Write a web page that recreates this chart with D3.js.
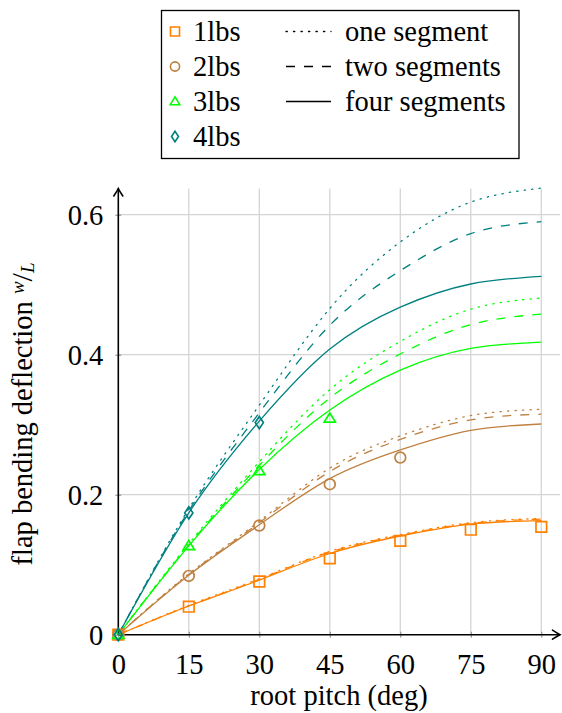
<!DOCTYPE html>
<html><head><meta charset="utf-8">
<script src="https://cdn.jsdelivr.net/npm/d3@7"></script>
<style>body{margin:0;background:#fff}svg{display:block}text{font-family:"Liberation Serif","Times New Roman",serif;fill:#000}</style>
</head><body>
<svg id="c" width="562" height="713"></svg>
<script>
// ---- data ----
const pitch = [0, 15, 30, 45, 60, 75, 90];
const xTicks = [0, 15, 30, 45, 60, 75, 90];
const yTicks = [0, 0.2, 0.4, 0.6];
const loads = ["1lbs", "2lbs", "3lbs", "4lbs"];
const loadColors = ["#ff8000", "#bf8040", "#00ff00", "#008080"];
const segmentNames = ["one segment", "two segments", "four segments"];

const one_1lbs  = [0, 0.042, 0.080, 0.119, 0.143, 0.160, 0.166];
const two_1lbs  = [0, 0.041, 0.079, 0.118, 0.142, 0.159, 0.165];
const four_1lbs = [0, 0.041, 0.078, 0.116, 0.141, 0.158, 0.163];

const one_2lbs  = [0, 0.087, 0.162, 0.238, 0.284, 0.313, 0.322];
const two_2lbs  = [0, 0.086, 0.160, 0.233, 0.279, 0.307, 0.315];
const four_2lbs = [0, 0.085, 0.157, 0.223, 0.264, 0.292, 0.301];

const one_3lbs  = [0, 0.130, 0.247, 0.350, 0.419, 0.465, 0.481];
const two_3lbs  = [0, 0.128, 0.242, 0.338, 0.401, 0.443, 0.458];
const four_3lbs = [0, 0.127, 0.236, 0.321, 0.378, 0.409, 0.418];

const one_4lbs  = [0, 0.180, 0.328, 0.466, 0.561, 0.618, 0.638];
const two_4lbs  = [0, 0.177, 0.317, 0.442, 0.520, 0.573, 0.590];
const four_4lbs = [0, 0.174, 0.305, 0.408, 0.468, 0.501, 0.512];

const exp_1lbs_x = [0, 15, 30, 45, 60, 75, 90];
const exp_1lbs_y = [0, 0.040, 0.076, 0.109, 0.134, 0.150, 0.154];
const exp_2lbs_x = [0, 15, 30, 45, 60];
const exp_2lbs_y = [0, 0.084, 0.156, 0.215, 0.253];
const exp_3lbs_x = [0, 15, 30, 45];
const exp_3lbs_y = [0, 0.127, 0.234, 0.309];
const exp_4lbs_x = [0, 15, 30];
const exp_4lbs_y = [0, 0.174, 0.303];

// ---- tables built from the arrays ----
const curveTable = [
  [one_1lbs, two_1lbs, four_1lbs],
  [one_2lbs, two_2lbs, four_2lbs],
  [one_3lbs, two_3lbs, four_3lbs],
  [one_4lbs, two_4lbs, four_4lbs]
];
const expTable = [
  [exp_1lbs_x, exp_1lbs_y],
  [exp_2lbs_x, exp_2lbs_y],
  [exp_3lbs_x, exp_3lbs_y],
  [exp_4lbs_x, exp_4lbs_y]
];

// ---- styles ----
const FS = 28.5;
const dashes = ["1.3,6.2", "9,9", null];
const lineW = 1.3;
const square = {draw(c, s){const h=s; c.moveTo(-h,-h); c.lineTo(h,-h); c.lineTo(h,h); c.lineTo(-h,h); c.closePath();}};
const circle = {draw(c, s){c.moveTo(s,0); c.arc(0,0,s,0,2*Math.PI);}};
const tri = {draw(c, s){c.moveTo(0,-s*1.05); c.lineTo(s*1.08,s*0.72); c.lineTo(-s*1.08,s*0.72); c.closePath();}};
const diamond = {draw(c, s){c.moveTo(0,-s*1.2); c.lineTo(s*0.8,0); c.lineTo(0,s*1.2); c.lineTo(-s*0.8,0); c.closePath();}};
const markerTypes = [square, circle, tri, diamond];
const markerSizes = [5.3, 5.4, 5.2, 5.1];

const svg = d3.select("#c");
const x = d3.scaleLinear().domain([0, 90]).range([118.3, 541.3]);
const y = d3.scaleLinear().domain([0, 0.6]).range([634.7, 214.7]);
const xEnd = 560, yTop = 188.5;

// grid
const grid = svg.append("g").attr("stroke", "#d4d4d4").attr("stroke-width", 1.3);
grid.selectAll("line.v").data(xTicks.filter(d => d > 0)).join("line")
  .attr("x1", d => x(d)).attr("x2", d => x(d)).attr("y1", y(0)).attr("y2", yTop);
grid.selectAll("line.h").data(yTicks.filter(d => d > 0)).join("line")
  .attr("x1", x(0)).attr("x2", xEnd).attr("y1", d => y(d)).attr("y2", d => y(d));

// axes (ticks + labels)
const ax = svg.append("g").attr("transform", `translate(0,${y(0)})`)
  .call(d3.axisBottom(x).tickValues(xTicks).tickFormat(d3.format("d")).tickSizeInner(3).tickSizeOuter(0));
ax.select(".domain").remove();
ax.selectAll(".tick line").attr("stroke", "#888").attr("y1", -3).attr("y2", 3);
ax.selectAll(".tick text").attr("y", 39).attr("dy", 0).attr("font-size", FS)
  .attr("font-family", "Liberation Serif").attr("fill", "#000");

const ay = svg.append("g").attr("transform", `translate(${x(0)},0)`)
  .call(d3.axisLeft(y).tickValues(yTicks).tickFormat(d => d === 0 ? "0" : d3.format(".1f")(d)).tickSizeInner(3).tickSizeOuter(0));
ay.select(".domain").remove();
ay.selectAll(".tick line").attr("stroke", "#888").attr("x1", -3).attr("x2", 3);
ay.selectAll(".tick text").attr("x", -15).attr("dy", "0.34em").attr("font-size", FS)
  .attr("font-family", "Liberation Serif").attr("fill", "#000");

// axis lines with arrows
const axisG = svg.append("g").attr("stroke", "#000").attr("stroke-width", 1.6).attr("fill", "none");
axisG.append("line").attr("x1", x(0)).attr("y1", y(0)).attr("x2", x(0)).attr("y2", yTop);
axisG.append("line").attr("x1", x(0)).attr("y1", y(0)).attr("x2", xEnd).attr("y2", y(0));
const arrow = "M-7.5,-4.5 Q-2.5,-1.2 0,0 Q-2.5,1.2 -7.5,4.5";
axisG.append("path").attr("d", arrow).attr("transform", `translate(${xEnd},${y(0)})`).attr("stroke-linecap","round");
axisG.append("path").attr("d", arrow).attr("transform", `translate(${x(0)},${yTop}) rotate(-90)`).attr("stroke-linecap","round");

// curves
const line = d3.line().x(d => x(d[0])).y(d => y(d[1])).curve(d3.curveNatural);
const curvesG = svg.append("g").attr("fill", "none");
curveTable.forEach((sets, i) => {
  sets.forEach((vals, j) => {
    curvesG.append("path")
      .datum(pitch.map((p, k) => [p, vals[k]]))
      .attr("d", line)
      .attr("stroke", loadColors[i])
      .attr("stroke-width", lineW)
      .attr("stroke-dasharray", dashes[j])
      .attr("stroke-linecap", j === 0 ? "round" : "butt");
  });
});

// markers
const markG = svg.append("g").attr("fill", "none").attr("stroke-width", 1.7);
expTable.forEach((e, i) => {
  const pts = e[0].map((px, k) => [px, e[1][k]]);
  markG.selectAll(null).data(pts).join("path")
    .attr("d", d3.symbol().type(markerTypes[i]).size(markerSizes[i]))
    .attr("transform", d => `translate(${x(d[0])},${y(d[1])})`)
    .attr("stroke", loadColors[i]);
});

// y label with nicefrac w/L
const yl = svg.append("text").attr("transform", "translate(32,414) rotate(-90)")
  .attr("text-anchor", "middle").attr("font-size", FS);
yl.append("tspan").text("flap bending deflection ");
yl.append("tspan").text("w").attr("font-style", "italic").attr("font-size", 19).attr("dy", -8);
yl.append("tspan").text("/").attr("dy", 8).attr("font-size", 30);
yl.append("tspan").text("L").attr("font-style", "italic").attr("font-size", 19).attr("dy", 2);

// x label
svg.append("text").attr("x", 339).attr("y", 705).attr("text-anchor", "middle")
  .attr("font-size", FS).text("root pitch (deg)");

// legend
const lg = svg.append("g");
lg.append("rect").attr("x", 161.5).attr("y", 10.5).attr("width", 357.5).attr("height", 148)
  .attr("fill", "#fff").attr("stroke", "#000").attr("stroke-width", 1.3);
const rowY = [31.5, 66.5, 101.5, 136.5];
loads.forEach((name, i) => {
  lg.append("path").attr("d", d3.symbol().type(markerTypes[i]).size(markerSizes[i] * 0.85))
    .attr("transform", `translate(175,${rowY[i]})`)
    .attr("fill", "none").attr("stroke", loadColors[i]).attr("stroke-width", 1.6);
  lg.append("text").attr("x", 193).attr("y", rowY[i] + 9.3).attr("font-size", FS).text(name);
});
segmentNames.forEach((name, j) => {
  lg.append("line").attr("x1", 286).attr("x2", 331).attr("y1", rowY[j]).attr("y2", rowY[j])
    .attr("stroke", "#000").attr("stroke-width", lineW).attr("stroke-dasharray", dashes[j])
    .attr("stroke-linecap", j === 0 ? "round" : "butt");
  lg.append("text").attr("x", 345).attr("y", rowY[j] + 9.3).attr("font-size", FS).text(name);
});
</script>
</body></html>
